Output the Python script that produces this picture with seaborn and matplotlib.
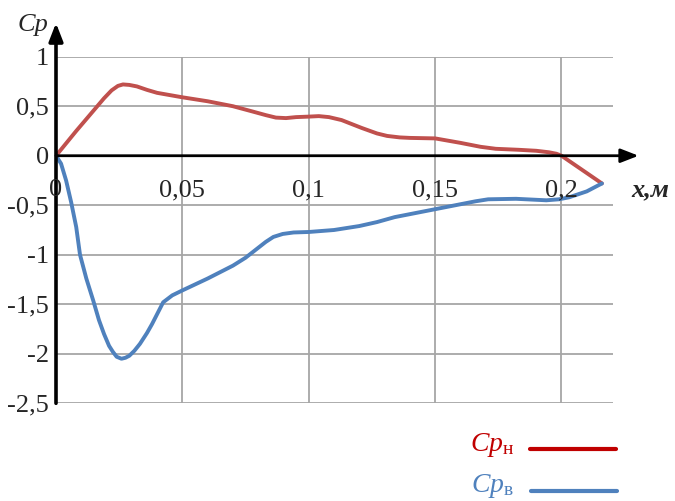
import matplotlib
matplotlib.use("Agg")
import matplotlib.pyplot as plt
import seaborn as sns
import pandas as pd

# Pressure coefficient along the chord, lower (н) and upper (в) surfaces
x_lower = [0.0, 0.008, 0.016, 0.019, 0.022, 0.0245, 0.0265, 0.029, 0.032, 0.036,
           0.040, 0.050, 0.060, 0.070, 0.078, 0.083, 0.087, 0.091, 0.095, 0.100,
           0.104, 0.108, 0.113, 0.121, 0.127, 0.131, 0.136, 0.140, 0.150, 0.160,
           0.168, 0.174, 0.183, 0.190, 0.195, 0.198, 0.200, 0.204, 0.208, 0.216]
cp_lower = [0.0, 0.25, 0.49, 0.58, 0.66, 0.705, 0.72, 0.715, 0.70, 0.665,
            0.635, 0.59, 0.55, 0.50, 0.445, 0.41, 0.385, 0.38, 0.39, 0.395,
            0.40, 0.39, 0.36, 0.28, 0.225, 0.20, 0.185, 0.18, 0.175, 0.13,
            0.09, 0.07, 0.06, 0.05, 0.035, 0.02, 0.0, -0.07, -0.14, -0.28]

x_upper = [0.0, 0.002, 0.004, 0.006, 0.008, 0.0095, 0.012, 0.0147, 0.017, 0.019,
           0.021, 0.0225, 0.024, 0.0259, 0.0275, 0.029, 0.031, 0.0332, 0.036, 0.038,
           0.040, 0.0424, 0.046, 0.050, 0.060, 0.070, 0.075, 0.078, 0.081, 0.083,
           0.086, 0.0897, 0.094, 0.100, 0.110, 0.120, 0.127, 0.134, 0.150, 0.160,
           0.166, 0.171, 0.182, 0.194, 0.199, 0.203, 0.210, 0.216]
cp_upper = [0.0, -0.08, -0.25, -0.47, -0.72, -1.0, -1.24, -1.46, -1.66, -1.80,
            -1.92, -1.98, -2.03, -2.05, -2.04, -2.02, -1.97, -1.90, -1.79, -1.70,
            -1.60, -1.48, -1.41, -1.36, -1.24, -1.11, -1.03, -0.97, -0.91, -0.87,
            -0.82, -0.79, -0.775, -0.77, -0.75, -0.71, -0.67, -0.62, -0.54, -0.49,
            -0.46, -0.44, -0.435, -0.45, -0.44, -0.42, -0.36, -0.28]

x_ticks = [0.0, 0.05, 0.1, 0.15, 0.2]
x_tick_labels = ["0", "0,05", "0,1", "0,15", "0,2"]
y_ticks = [1.0, 0.5, 0.0, -0.5, -1.0, -1.5, -2.0, -2.5]
y_tick_labels = ["1", "0,5", "0", "-0,5", "-1", "-1,5", "-2", "-2,5"]

sns.set_theme(style="white")
plt.rcParams["font.family"] = ["Liberation Serif", "DejaVu Serif"]
plt.rcParams["mathtext.fontset"] = "custom"
plt.rcParams["mathtext.rm"] = "Liberation Serif"
plt.rcParams["mathtext.it"] = "Liberation Serif:italic"

RED = "#c0504d"
BLUE = "#4f81bd"
GRID = "#a6a6a6"

W, H = 675, 501
fig = plt.figure(figsize=(W / 100, H / 100), dpi=100)
left, right, top, bottom = 56, 613.3, 56.7, 403.3
ax = fig.add_axes([left / W, 1 - bottom / H, (right - left) / W, (bottom - top) / H])
ax.set_xlim(0, 0.2205)
ax.set_ylim(-2.5, 1.0)

# grid
for xv in x_ticks[1:]:
    ax.axvline(xv, color=GRID, lw=1.3, zorder=1)
for yv in y_ticks:
    if yv != 0:
        ax.axhline(yv, color=GRID, lw=1.3, zorder=1)

df_low = pd.DataFrame({"x": x_lower, "cp": cp_lower})
df_up = pd.DataFrame({"x": x_upper, "cp": cp_upper})
sns.lineplot(data=df_low, x="x", y="cp", sort=False, color=RED, lw=2.8, ax=ax, zorder=3)
sns.lineplot(data=df_up, x="x", y="cp", sort=False, color=BLUE, lw=2.8, ax=ax, zorder=3)
for ln in ax.lines[-2:]:
    ln.set_solid_joinstyle("round")
    ln.set_solid_capstyle("round")

for s in ax.spines.values():
    s.set_visible(False)
ax.set_xticks([])
ax.set_yticks(y_ticks)
ax.set_yticklabels(y_tick_labels, fontsize=19)
ax.tick_params(axis="y", length=0, pad=5)
ax.set_xlabel("")
ax.set_ylabel("")

# axes with arrows
ax.annotate("", xy=(0, 1.34), xytext=(0, -2.5),
            arrowprops=dict(arrowstyle="-|>,head_length=0.9,head_width=0.35",
                            color="black", lw=2.6, shrinkA=0, shrinkB=0),
            annotation_clip=False, zorder=4)
ax.annotate("", xy=(0.2305, 0), xytext=(0, 0),
            arrowprops=dict(arrowstyle="-|>,head_length=0.9,head_width=0.35",
                            color="black", lw=2, shrinkA=0, shrinkB=0),
            annotation_clip=False, zorder=4)

# x tick labels just below the zero line
for xv, lab in zip(x_ticks, x_tick_labels):
    ax.annotate(lab, xy=(xv, 0), xytext=(0, -25), textcoords="offset points",
                ha="center", va="center", fontsize=19, annotation_clip=False, zorder=5)

fig.text(33 / W, 1 - 25 / H, "Cp", fontsize=19, style="italic", ha="center", va="center")
fig.text(650 / W, 1 - 190 / H, "x,м", fontsize=19, style="italic", weight="bold",
         ha="center", va="center")

# legend
fig.text(514 / W, 1 - 445 / H, r"$\mathit{Cp}_{\mathrm{н}}$", fontsize=20, color="#c00000",
         ha="right", va="center")
fig.lines.append(plt.Line2D([530 / W, 616 / W], [1 - 449 / H, 1 - 449 / H],
                            transform=fig.transFigure, color="#c00000", lw=3))
fig.text(514 / W, 1 - 486 / H, r"$\mathit{Cp}_{\mathrm{в}}$", fontsize=20, color=BLUE,
         ha="right", va="center")
fig.lines.append(plt.Line2D([531 / W, 617 / W], [1 - 491 / H, 1 - 491 / H],
                            transform=fig.transFigure, color=BLUE, lw=3))

fig.savefig("out.png", dpi=100)
